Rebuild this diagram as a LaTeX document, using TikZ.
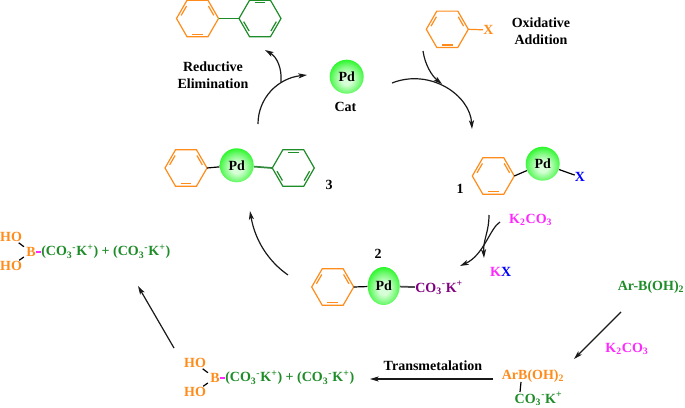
\documentclass[tikz,border=0pt]{standalone}
\usepackage{fontspec}
\setmainfont{Liberation Serif}
\usetikzlibrary{arrows.meta,shapes.geometric}
\definecolor{ringorange}{RGB}{255,140,26}
\definecolor{ringgreen}{RGB}{30,140,40}
\definecolor{saltpurple}{RGB}{128,0,128}
\definecolor{basepink}{RGB}{255,40,255}
\definecolor{ballpale}{RGB}{215,255,215}
\definecolor{ballrim}{RGB}{0,245,0}
\pgfdeclareradialshading{pdshade}{\pgfpoint{0bp}{-4bp}}{
  color(0bp)=(ballpale); color(8bp)=(ballpale); color(20bp)=(ballrim!55!white); color(32bp)=(ballrim); color(70bp)=(ballrim)}
\tikzset{
  x=.75pt, y=-.75pt,
  txt/.style={font=\bfseries\fontsize{10.5}{12}\selectfont, inner sep=0pt, black},
  ball/.style={circle, inner sep=0pt, minimum size=25.5pt, shading=pdshade, txt},
  bond/.style={line width=.9pt},
  react/.style={line width=.9pt, black!90, -{Stealth[length=6.5pt,width=3.8pt,inset=1.6pt]}}
}
% name, centre, colour, first double bond
\newcommand{\benzene}[4]{
  \begin{scope}[shift={(#2)}, bond, #3]
    \draw (0:21) -- (60:21) -- (120:21) -- (180:21) -- (240:21) -- (300:21) -- cycle;
    \foreach \a in {0,120,240}
      \draw (#4+\a+11:16.6) -- (#4+\a+49:16.6);
    \coordinate (#1w) at (180:21);
    \coordinate (#1e) at (0:21);
  \end{scope}
}
\newcommand{\cothree}{CO\textsubscript{3}\textsuperscript{-}K\textsuperscript{+}}
\begin{document}
\begin{tikzpicture}
  \useasboundingbox (0,0) rectangle (685,407);
  % rings
  \benzene{biA}{197.5,18.5}{ringorange}{60}
  \benzene{biB}{260,18.5}{ringgreen}{0}
  \benzene{arX}{447.3,29.3}{ringorange}{60}
  \benzene{arOne}{493.3,176}{ringorange}{60}
  \benzene{arTwo}{332.7,287}{ringorange}{60}
  \benzene{arThree}{186,168}{ringorange}{60}
  \benzene{grThree}{293.3,168}{ringgreen}{0}
  % Pd centres
  \node[ball] (pdCat) at (346.7,76.7) {Pd};
  \node[ball] (pdOne) at (542.7,163.7) {Pd};
  \node[ball, ellipse, minimum width=24pt, minimum height=28.5pt] (pdTwo) at (383.7,286) {Pd};
  \node[ball] (pdThree) at (236.7,165.3) {Pd};
  % labels
  \node[txt] (catlabel) at (345.5,107) {Cat};
  \node[txt] (one) at (460,189) {1};
  \node[txt] (two) at (378,254) {2};
  \node[txt] (three) at (329,185) {3};
  \node[txt, align=center] (reductive) at (213,75.5) {Reductive\\[1pt]Elimination};
  \node[txt, align=center] (oxidative) at (541,31.5) {Oxidative\\[1pt]Addition};
  \node[txt, ringorange] (xorange) at (488.5,30) {X};
  \node[txt, blue] (xblue) at (580,177) {X};
  \node[txt, saltpurple, anchor=west] (saltTwo) at (415,288) {\cothree};
  \node[txt, basepink] (baseA) at (530.7,220) {K\textsubscript{2}CO\textsubscript{3}};
  \node[txt, basepink] (kx) at (500.7,272) {K\textcolor{blue}{X}};
  \node[txt, ringgreen] (arboh) at (651,287) {Ar-B(OH)\textsubscript{2}};
  \node[txt, basepink] (baseB) at (627,349) {K\textsubscript{2}CO\textsubscript{3}};
  \node[txt, ringorange] (arbOrange) at (533,376) {ArB(OH)\textsubscript{2}};
  \node[txt, ringgreen] (saltThree) at (538.5,399) {\cothree};
  \node[txt] (transmet) at (433,366) {Transmetalation};
  % boronates
  \foreach \n/\x/\y in {up/0/0,low/184/126}{
    \begin{scope}[shift={(\x,\y)}]
      \node[txt, ringorange] (ho\n A) at (11,237) {HO};
      \node[txt, ringorange] (ho\n B) at (11,266) {HO};
      \node[txt, ringorange] (b\n) at (31,252) {B};
      \node[txt, ringgreen, anchor=west] (salt\n) at (41,252) {(\cothree) + (\cothree)};
      \draw[bond, black, shorten >=2pt, shorten <=1pt] (ho\n A) -- (b\n);
      \draw[bond, black, shorten >=2pt, shorten <=1pt] (ho\n B) -- (b\n);
      \draw[bond, basepink] (b\n) -- (salt\n);
    \end{scope}
  }
  % bonds
  \draw[bond, ringgreen] (biAe) -- (biBw);
  \draw[bond, ringorange] (arXe) -- (xorange);
  \draw[bond, black] (arOnee) -- (pdOne);
  \draw[bond, black] (pdOne) -- (xblue);
  \draw[bond, black] (arTwoe) -- (pdTwo);
  \draw[line width=1.3pt, black!70] (pdTwo) -- (saltTwo);
  \draw[bond, black] (arThreee) -- (pdThree);
  \draw[line width=1.3pt, ringgreen!80!gray] (pdThree) -- (grThreew);
  \coordinate (tieA) at (521,382);
  \coordinate (tieB) at (520,392);
  \draw[bond, black] (tieA) -- (tieB);
  % cycle arrows
  \coordinate (catOut) at (392,83);
  \coordinate (oneIn) at (472,129);
  \coordinate (arxOut) at (423,51);
  \coordinate (arxIn) at (442,84);
  \coordinate (threeOut) at (258,124);
  \coordinate (catIn) at (307,75);
  \coordinate (biOut) at (281,82);
  \coordinate (biIn) at (265,50);
  \coordinate (oneOut) at (489,215);
  \coordinate (kxIn) at (484,258);
  \coordinate (baseOut) at (500,222);
  \coordinate (twoIn) at (460,266);
  \coordinate (twoOut) at (288,275);
  \coordinate (threeIn) at (250,211);
  \coordinate (boOut) at (174,348);
  \coordinate (boIn) at (138,286);
  \coordinate (trOut) at (493,379);
  \coordinate (trIn) at (370,379);
  \coordinate (arbOut) at (621,312);
  \coordinate (arbIn) at (574,359);
  \draw[react] (catOut) .. controls (430,68) and (470,95) .. (oneIn);
  \draw[react] (arxOut) .. controls (425,65) and (432,76) .. (arxIn);
  \draw[react] (threeOut) .. controls (258,98) and (278,78) .. (catIn);
  \draw[react] (biOut) .. controls (282,68) and (277,57) .. (biIn);
  \draw[react] (oneOut) .. controls (489,232) and (483,240) .. (kxIn);
  \draw[react] (baseOut) .. controls (490,228) and (484,255) .. (twoIn);
  \draw[react] (twoOut) .. controls (268,261) and (255,240) .. (threeIn);
  \draw[react] (boOut) -- (boIn);
  \draw[react] (trOut) -- (trIn);
  \draw[react] (arbOut) -- (arbIn);
\end{tikzpicture}
\end{document}
